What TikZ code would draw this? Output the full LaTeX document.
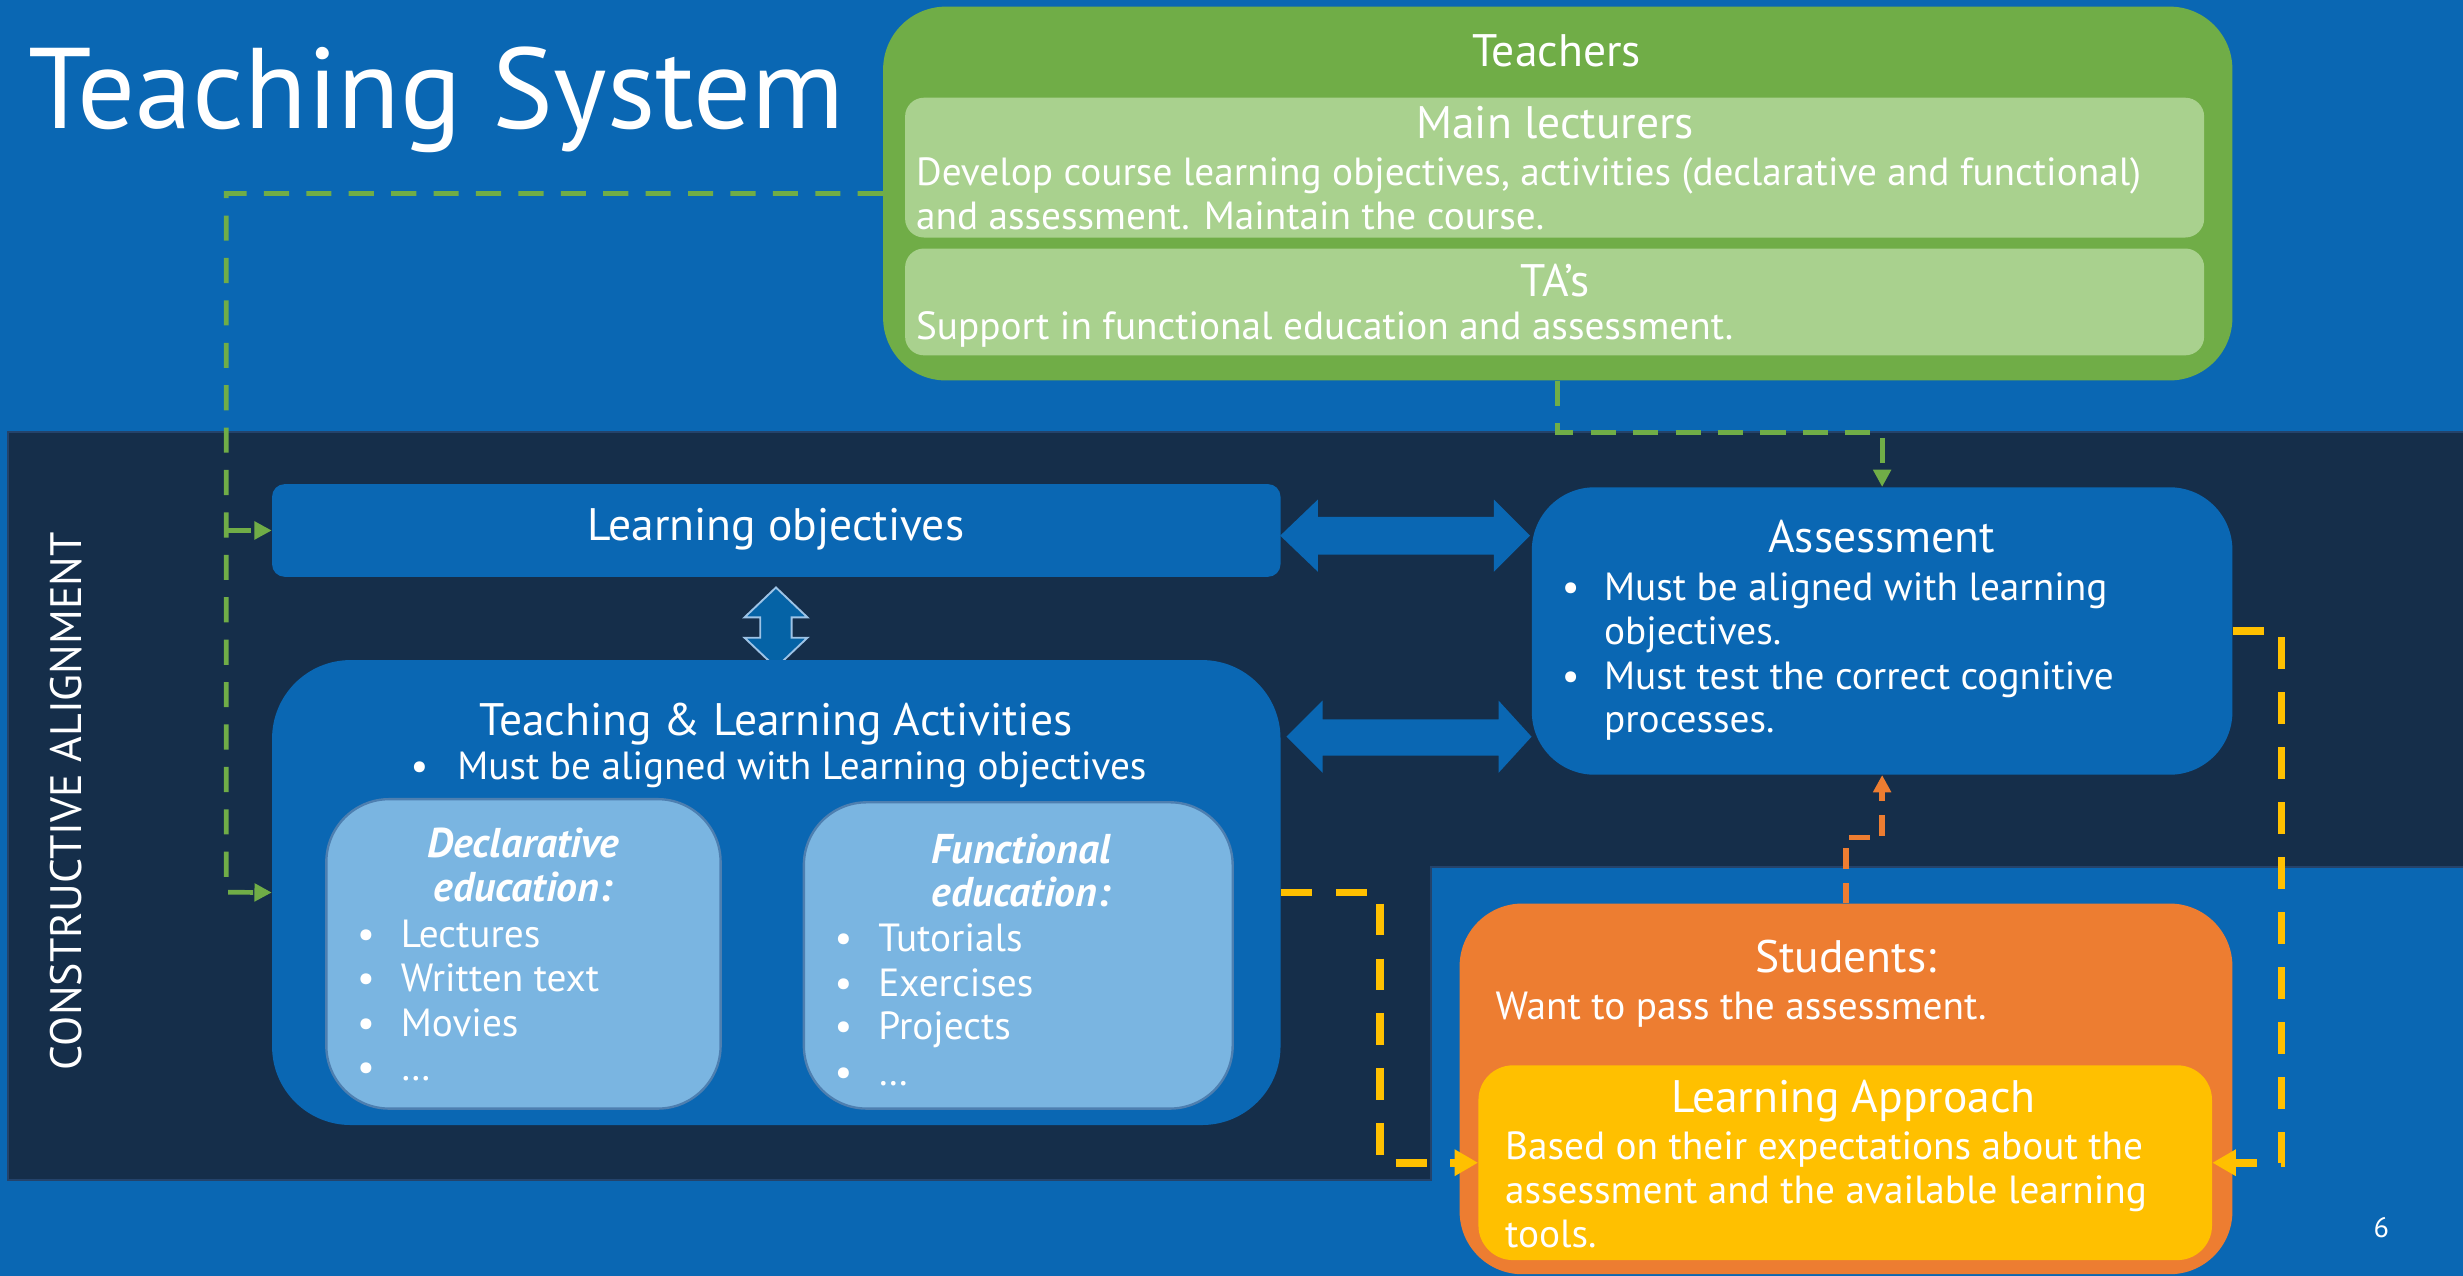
\documentclass[tikz,border=0pt]{standalone}
\usepackage{fontspec}
\setmainfont{PT Sans}
\usetikzlibrary{arrows.meta,calc}
\definecolor{bgblue}{HTML}{0A67B3}
\definecolor{navy}{HTML}{152E4A}
\definecolor{navyedge}{HTML}{24436B}
\definecolor{tgreen}{HTML}{70AD47}
\definecolor{lgreen}{HTML}{A9D18E}
\definecolor{torange}{HTML}{ED7D31}
\definecolor{tyellow}{HTML}{FFC000}
\definecolor{lblue}{HTML}{7AB5E1}
\definecolor{lblueedge}{HTML}{4E7FB0}
\definecolor{arrblue}{HTML}{0563A6}
\definecolor{arredge}{HTML}{9DC3E6}
\tikzset{
  box/.style={rectangle, inner sep=0pt, anchor=north west},
  ttl/.style={inner sep=0pt, anchor=base, text=white, font=\fontsize{29}{34}\selectfont},
  bodyl/.style={inner sep=0pt, anchor=base west, text=white, font=\fontsize{25}{30}\selectfont},
  bul/.style={inner sep=0pt, anchor=base, text=white, font=\fontsize{25}{30}\selectfont},
  ital/.style={inner sep=0pt, anchor=base, text=white, font=\fontsize{26.5}{31}\selectfont\bfseries\itshape},
  gdash/.style={draw=tgreen, line width=3pt, dash pattern=on 16pt off 11pt, -{Triangle[length=11pt,width=11pt]}},
  ydash/.style={draw=tyellow, line width=5pt, dash pattern=on 20pt off 15pt, -{Triangle[length=15pt,width=16pt]}},
  odash/.style={draw=torange, line width=3.5pt, dash pattern=on 13pt off 9pt, -{Triangle[length=11pt,width=11pt]}},
  blockarrow/.style={fill=bgblue},
}
\begin{document}
\begin{tikzpicture}[x=1pt,y=-1pt]
\useasboundingbox (0,0) rectangle (1568,812);
\fill[bgblue] (0,0) rectangle (1568,812);
% dark constructive alignment panel
\fill[navy] (5,275) -- (1568,275) -- (1568,552) -- (911,552) -- (911,751) -- (5,751) -- cycle;
\draw[navyedge, line width=1.5pt] (1568,552) -- (911,552) -- (911,751) -- (5,751) -- (5,275) -- (1568,275);

\node[rotate=90, text=white, inner sep=0pt, font=\fontsize{28}{32}\selectfont] (ca) at (42,510) {CONSTRUCTIVE ALIGNMENT};

% title
\node[inner sep=0pt, anchor=base west, text=white, font=\fontsize{73}{84}\selectfont] (title) at (18,81.5) {Teaching System};

% Teachers
\node[box, fill=tgreen, rounded corners=40pt, minimum width=859pt, minimum height=238pt] (teachers) at (562,4) {};
\node[ttl] (teachersT) at (991,42.5) {Teachers};
\node[box, fill=lgreen, rounded corners=12pt, minimum width=827pt, minimum height=89pt] (ml) at (576,62) {};
\node[ttl] (mlT) at (990,88) {Main lecturers};
\node[bodyl] (ml1) at (583,118) {Develop course learning objectives, activities (declarative and functional)};
\node[bodyl] (ml2) at (583,146) {and assessment. Maintain the course.};
\node[box, fill=lgreen, rounded corners=12pt, minimum width=827pt, minimum height=68pt] (ta) at (576,158) {};
\node[ttl] (taT) at (990,189) {TA’s};
\node[bodyl] (ta1) at (583,216) {Support in functional education and assessment.};

% Learning objectives
\node[box, fill=bgblue, rounded corners=8pt, minimum width=642pt, minimum height=59pt] (lo) at (173,308) {};
\node[ttl] (loT) at (494,344) {Learning objectives};

% small vertical double arrow
\filldraw[fill=arrblue, draw=arredge, line width=1.2pt]
  (494,374) -- (514,393) -- (504,393) -- (504,406) -- (514,406) -- (494,425)
  -- (474,406) -- (484,406) -- (484,393) -- (474,393) -- cycle;

% Teaching & Learning Activities
\node[box, fill=bgblue, rounded corners=50pt, minimum width=642pt, minimum height=296pt] (tl) at (173,420) {};
\node[ttl] (tlT) at (494,468) {Teaching \& Learning Activities};
\node[bul] (tlb) at (267,496.5) {\textbullet};
\node[bodyl] (tl1) at (291,496.5) {Must be aligned with Learning objectives};

\node[box, fill=lblue, draw=lblueedge, line width=1.5pt, rounded corners=40pt, minimum width=251pt, minimum height=197pt] (decl) at (207,508) {};
\node[ital] (declT1) at (333,546) {Declarative};
\node[ital] (declT2) at (333,574) {education:};
\node[bul] (db1) at (233,603) {\textbullet};
\node[bodyl] (dt1) at (255,603) {Lectures};
\node[bul] (db2) at (233,631.5) {\textbullet};
\node[bodyl] (dt2) at (255,631.5) {Written text};
\node[bul] (db3) at (233,660) {\textbullet};
\node[bodyl] (dt3) at (255,660) {Movies};
\node[bul] (db4) at (233,688) {\textbullet};
\node[bodyl] (dt4) at (255,688) {…};

\node[box, fill=lblue, draw=lblueedge, line width=1.5pt, rounded corners=40pt, minimum width=273pt, minimum height=195pt] (func) at (511,510) {};
\node[ital] (funcT1) at (650,549.5) {Functional};
\node[ital] (funcT2) at (650,577) {education:};
\node[bul] (fb1) at (537,606) {\textbullet};
\node[bodyl] (ft1) at (559,606) {Tutorials};
\node[bul] (fb2) at (537,634.5) {\textbullet};
\node[bodyl] (ft2) at (559,634.5) {Exercises};
\node[bul] (fb3) at (537,662) {\textbullet};
\node[bodyl] (ft3) at (559,662) {Projects};
\node[bul] (fb4) at (537,691) {\textbullet};
\node[bodyl] (ft4) at (559,691) {…};

% Assessment
\node[box, fill=bgblue, rounded corners=40pt, minimum width=446pt, minimum height=183pt] (assess) at (975,310) {};
\node[ttl] (asT) at (1198,352) {Assessment};
\node[bul] (ab1) at (1000,382) {\textbullet};
\node[bodyl] (at1) at (1021,382) {Must be aligned with learning};
\node[bodyl] (at2) at (1021,410) {objectives.};
\node[bul] (ab2) at (1000,439) {\textbullet};
\node[bodyl] (at3) at (1021,439) {Must test the correct cognitive};
\node[bodyl] (at4) at (1021,466.5) {processes.};

% block double arrows
\fill[blockarrow] (815,341) -- (839,318) -- (839,329) -- (951,329) -- (951,318) -- (974,341)
  -- (951,364) -- (951,353) -- (839,353) -- (839,364) -- cycle;
\fill[blockarrow] (819,469) -- (842,446) -- (842,458) -- (954,458) -- (954,446) -- (975,469)
  -- (954,492) -- (954,481) -- (842,481) -- (842,492) -- cycle;

% Students
\node[box, fill=torange, rounded corners=40pt, minimum width=492pt, minimum height=236pt] (students) at (929,575) {};
\node[ttl] (stT) at (1175,619) {Students:};
\node[bodyl] (st1) at (952,649) {Want to pass the assessment.};
\node[box, fill=tyellow, rounded corners=22pt, minimum width=467pt, minimum height=124pt] (la) at (941,678) {};
\node[ttl] (laT) at (1180,708.5) {Learning Approach};
\node[bodyl] (la1) at (958,738) {Based on their expectations about the};
\node[bodyl] (la2) at (958,766) {assessment and the available learning};
\node[bodyl] (la3) at (958,794) {tools.};

% page number
\node[inner sep=0pt, anchor=base, text=white, font=\fontsize{18}{20}\selectfont] (pg) at (1516,788) {6};

% connectors
\coordinate (gcorner) at (144,568);
\draw[gdash] (teachers.west) -| (gcorner) -- (tl.west);
\draw[gdash] (lo.west -| gcorner) -- (lo.west);
\draw[gdash] (teachers.south) -- ++(0,33) -| (assess.north);
\draw[odash] (students.north) -- ++(0,-42) -| (assess.south);
\draw[ydash] (tl.east) -- ++(63,0) |- (la.west);
\draw[ydash] (assess.east) -- ++(31,0) |- (la.east);
\end{tikzpicture}
\end{document}
